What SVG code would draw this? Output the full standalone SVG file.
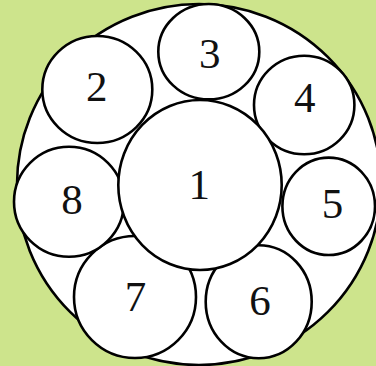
<svg xmlns="http://www.w3.org/2000/svg" width="376" height="366" viewBox="0 0 376 366">
  <style>
    .c { fill: #ffffff; stroke: #000000; stroke-width: 2.6; }
    .t { font-family: "Liberation Serif", "Times New Roman", serif; font-size: 43px; fill: #111111; text-anchor: middle; }
  </style>
  <rect x="0" y="0" width="376" height="366" fill="#cde48c"/>
  <g id="outer">
    <ellipse class="c" cx="199" cy="184.5" rx="182" ry="180.5"/>
  </g>
  <g id="connectors"></g>
  <g id="n7">
    <ellipse class="c" cx="135" cy="297" rx="61" ry="61"/>
    <text class="t" x="135.5" y="311">7</text>
  </g>
  <g id="n6">
    <ellipse class="c" cx="258.7" cy="301.7" rx="53" ry="56.5"/>
    <text class="t" x="260" y="315">6</text>
  </g>
  <g id="n8">
    <ellipse class="c" cx="69" cy="201.7" rx="55" ry="55"/>
    <text class="t" x="72" y="214">8</text>
  </g>
  <g id="n2">
    <ellipse class="c" cx="97.3" cy="89.5" rx="55" ry="53.5"/>
    <text class="t" x="96.7" y="101">2</text>
  </g>
  <g id="n3">
    <ellipse class="c" cx="208.8" cy="51.7" rx="50.5" ry="47.7"/>
    <text class="t" x="209.7" y="68">3</text>
  </g>
  <g id="n4">
    <ellipse class="c" cx="304.2" cy="105" rx="50.2" ry="49.3"/>
    <text class="t" x="304.7" y="111.5">4</text>
  </g>
  <g id="n5">
    <ellipse class="c" cx="328.7" cy="206.3" rx="46.3" ry="48.7"/>
    <text class="t" x="332.5" y="218">5</text>
  </g>
  <g id="n1">
    <ellipse class="c" cx="200" cy="185" rx="81.7" ry="85"/>
    <text class="t" x="199.2" y="199.3">1</text>
  </g>
</svg>
